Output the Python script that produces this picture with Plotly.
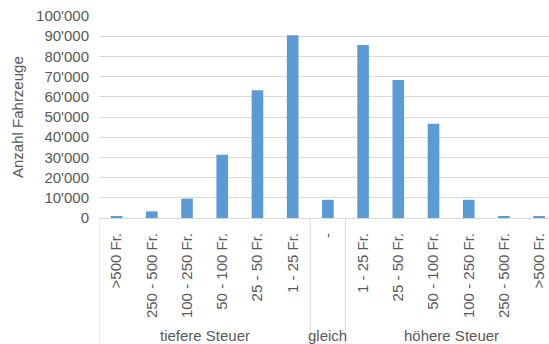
import plotly.graph_objects as go

# Tax-change bands (inner axis labels) and their group (outer axis labels)
bands = [">500 Fr.", "250 - 500 Fr.", "100 - 250 Fr.", "50 - 100 Fr.", "25 - 50 Fr.", "1 - 25 Fr.",
         "-",
         "1 - 25 Fr.", "25 - 50 Fr.", "50 - 100 Fr.", "100 - 250 Fr.", "250 - 500 Fr.", ">500 Fr."]
groups = ["tiefere Steuer"] * 6 + ["gleich"] + ["höhere Steuer"] * 6
vehicles = [700, 3300, 9600, 31300, 63300, 90500,
            9000,
            85600, 68300, 46600, 9000, 600, 600]
y_ticks = [0, 10000, 20000, 30000, 40000, 50000, 60000, 70000, 80000, 90000, 100000]

FONT = "Liberation Sans, Arial, sans-serif"
FS = 15
GREY = "#595959"
GRID = "#d9d9d9"
BLUE = "#5b9bd5"

W, H = 549, 344
M_L, M_R, M_T, M_B = 99, 0, 16, 126
plot_h = H - M_T - M_B

xs = list(range(len(bands)))

fig = go.Figure(go.Bar(
    x=xs, y=vehicles, width=0.33,
    marker=dict(color=BLUE, line=dict(width=0)),
))

# group boundaries and group names below the band labels
group_names = []
for i, g in enumerate(groups):
    if not group_names or group_names[-1][0] != g:
        group_names.append([g, i, i])
    else:
        group_names[-1][2] = i

bottom = -M_B / plot_h
shapes = []
annotations = []
for name, i0, i1 in group_names:
    shapes.append(dict(type="line", xref="x", yref="paper", x0=i0 - 0.5, x1=i0 - 0.5,
                       y0=0, y1=bottom, line=dict(color=GRID, width=1)))
    annotations.append(dict(text=name, xref="x", yref="paper", x=(i0 + i1) / 2,
                            y=-(335 - (H - M_B)) / plot_h, yanchor="middle", xanchor="center",
                            showarrow=False, font=dict(family=FONT, size=FS, color=GREY)))

annotations.append(dict(text="Anzahl Fahrzeuge", xref="paper", yref="paper",
                        x=(17 - M_L) / (W - M_L - M_R), y=0.5, xanchor="center", yanchor="middle",
                        textangle=-90, showarrow=False,
                        font=dict(family=FONT, size=FS, color=GREY)))

fig.update_layout(
    width=W, height=H,
    margin=dict(l=M_L, r=M_R, t=M_T, b=M_B),
    paper_bgcolor="white", plot_bgcolor="white",
    separators=".'",
    showlegend=False,
    shapes=shapes,
    annotations=annotations,
    font=dict(family=FONT, size=FS, color=GREY),
    xaxis=dict(
        range=[-0.5, 12.28],
        tickvals=xs, ticktext=bands, tickangle=-90,
        showgrid=False, zeroline=False,
        showline=True, linecolor=GRID, linewidth=1,
        ticks="", ticklabelstandoff=8,
        tickfont=dict(family=FONT, size=FS, color=GREY),
    ),
    yaxis=dict(
        range=[0, 100000],
        tickvals=y_ticks, tickformat=",d",
        showgrid=True, gridcolor=GRID, gridwidth=1,
        zeroline=False, showline=False,
        ticks="", ticklabelstandoff=9,
        tickfont=dict(family=FONT, size=FS, color=GREY),
    ),
)

fig.write_html("out.html")
